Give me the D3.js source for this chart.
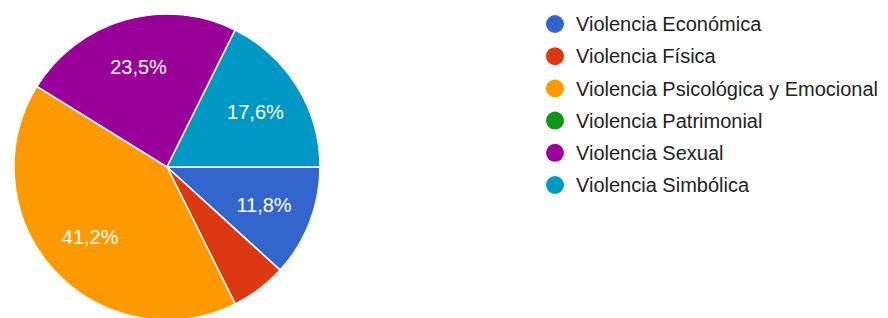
<!DOCTYPE html>
<html>
<head>
<meta charset="utf-8">
<script src="https://cdn.jsdelivr.net/npm/d3@7"></script>
<style>
  html, body { margin: 0; padding: 0; background: #ffffff; }
  svg { display: block; }
</style>
</head>
<body>
<svg id="chart" width="888" height="318"></svg>
<script>
const categories = [
  "Violencia Económica",
  "Violencia Física",
  "Violencia Psicológica y Emocional",
  "Violencia Patrimonial",
  "Violencia Sexual",
  "Violencia Simbólica"
];
const values = [2, 1, 7, 0, 4, 3];
const colors = ["#3366cc", "#dc3912", "#ff9900", "#109618", "#990099", "#0099c6"];

const svg = d3.select("#chart");
const cx = 167, cy = 167, R = 153;
const total = d3.sum(values);

const pie = d3.pie().value(d => d.value).sort(null)
  .startAngle(Math.PI / 2).endAngle(Math.PI / 2 + 2 * Math.PI);
const data = categories.map((c, i) => ({ name: c, value: values[i], color: colors[i] }));
const arcs = pie(data);

const arc = d3.arc().innerRadius(0).outerRadius(R);
const labelArc = d3.arc().innerRadius(R * 0.68).outerRadius(R * 0.68);

const g = svg.append("g").attr("transform", `translate(${cx},${cy})`);
g.selectAll("path").data(arcs.filter(a => a.value > 0)).join("path")
  .attr("d", arc)
  .attr("fill", d => d.data.color)
  .attr("stroke", "#ffffff")
  .attr("stroke-width", 1.5);

const fmt = v => (Math.round(v * 1000) / 10).toFixed(1).replace(".", ",") + "%";
g.selectAll("text.lbl").data(arcs.filter(a => a.value / total >= 0.1)).join("text")
  .attr("class", "lbl")
  .attr("transform", d => `translate(${labelArc.centroid(d)})`)
  .attr("text-anchor", "middle")
  .attr("dy", "0.36em")
  .attr("font-family", "Arial, 'Liberation Sans', sans-serif")
  .attr("font-size", 20)
  .attr("fill", "#ffffff")
  .text(d => fmt(d.value / total));

const legend = svg.append("g");
const rowY = d3.scaleLinear().domain([0, 1]).range([24, 56.2]);
const items = legend.selectAll("g").data(data).join("g")
  .attr("transform", (d, i) => `translate(0,${rowY(i)})`);
items.append("circle").attr("cx", 555).attr("cy", 0).attr("r", 9).attr("fill", d => d.color);
items.append("text").attr("x", 576).attr("y", 0).attr("dy", "0.36em")
  .attr("font-family", "Arial, 'Liberation Sans', sans-serif")
  .attr("font-size", 20)
  .attr("fill", "#222222")
  .text(d => d.name);
</script>
</body>
</html>
